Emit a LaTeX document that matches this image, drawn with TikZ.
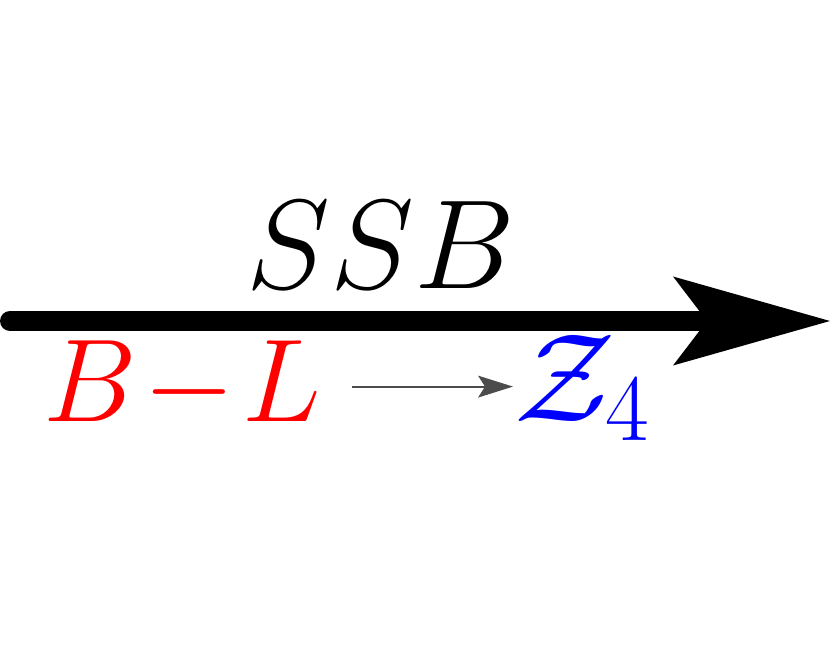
\RequirePackage{fix-cm}
\documentclass[tikz,border=0pt]{standalone}
\usetikzlibrary{arrows.meta}
\DeclareMathSizes{126}{126}{95}{66}
\begin{document}
\begin{tikzpicture}[x=1pt,y=-1pt,
  big/.style={font=\fontsize{127}{150}\selectfont, inner sep=0pt},
  low/.style={font=\fontsize{118}{140}\selectfont, inner sep=0pt},
  zfont/.style={font=\fontsize{126}{150}\selectfont, inner sep=0pt},
  thin arrow/.style={draw=black!70, line width=2pt, -{Stealth[length=35pt,width=22pt,inset=7pt,line width=0pt]}}]
\useasboundingbox (0,0) rectangle (831,660);
\coordinate (s) at (10,321);
\coordinate (e) at (830,321);
\draw[line width=20pt, line cap=round, -{Stealth[length=157pt,width=89pt,inset=34pt,line width=0pt]}] (s) -- (e);
\node[big, anchor=base] (ssb) at (381,289) {$SSB$};
\node[low, anchor=base, text=red] (bl) at (182,422) {$B\!-\!L$};
\node[zfont, anchor=base west, text=blue] (z) at (514,422) {$\mathcal{Z}_4$};
\draw[thin arrow, shorten <=31pt, shorten >=1pt] (bl.east) -- (bl.east -| z.west);
\end{tikzpicture}
\end{document}
